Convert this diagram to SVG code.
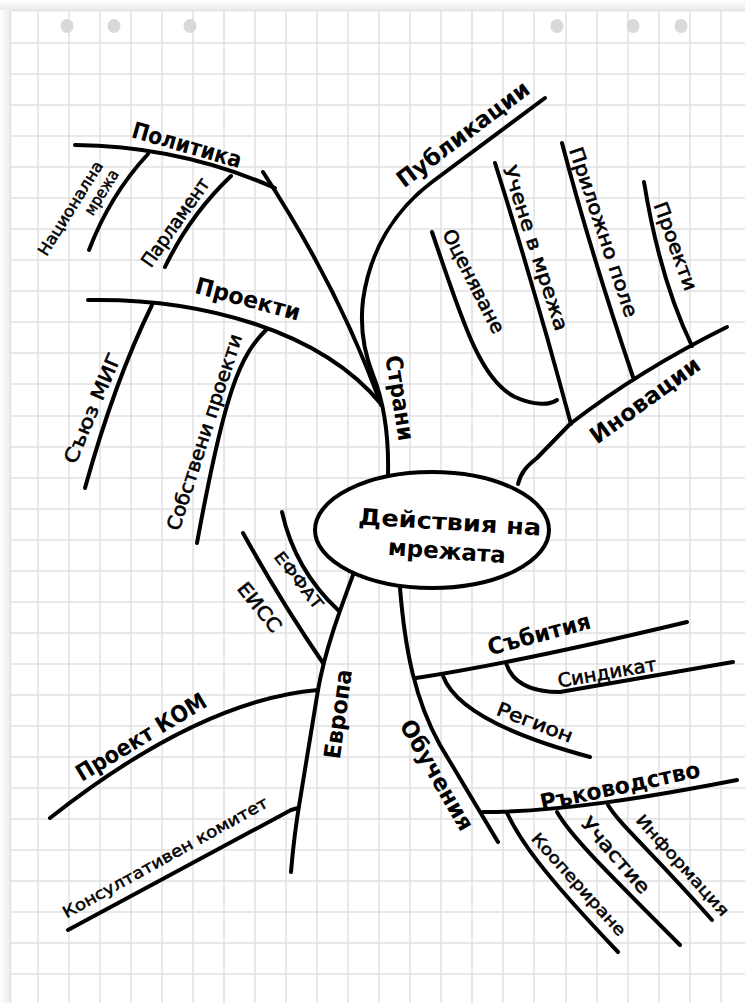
<svg xmlns="http://www.w3.org/2000/svg" width="745" height="1003" viewBox="0 0 745 1003">
<defs>
<style>
.grid line{stroke:#e1e1e1;stroke-width:1.5}
.dot{fill:#d9d9d9}
.c path{fill:none;stroke:#000;stroke-width:4;stroke-linecap:round;stroke-linejoin:round}
text{font-family:"DejaVu Sans","Noto Sans","Liberation Sans",sans-serif;fill:#000;text-anchor:middle}
.m{font-size:23px;font-weight:700}
.s{font-size:19px;font-weight:400;stroke:#000;stroke-width:0.6}
.xs{font-size:16px;font-weight:400;stroke:#000;stroke-width:0.5}
</style>
<linearGradient id="shL" x1="0" y1="0" x2="1" y2="0"><stop offset="0" stop-color="#fff"/><stop offset="1" stop-color="#ececec"/></linearGradient>
<linearGradient id="shT" x1="0" y1="0" x2="0" y2="1"><stop offset="0" stop-color="#fff"/><stop offset="1" stop-color="#ececec"/></linearGradient>
</defs>
<rect x="0" y="0" width="745" height="1003" fill="#fff"/>
<rect x="0" y="0" width="10" height="1003" fill="url(#shL)"/>
<rect x="0" y="0" width="745" height="10" fill="url(#shT)"/>
<g class="grid">
<line x1="10.5" y1="10.5" x2="10.5" y2="1003"/>
<line x1="10.5" y1="10.5" x2="745" y2="10.5"/>
<line x1="38" y1="10" x2="38" y2="1003"/><line x1="69" y1="10" x2="69" y2="1003"/><line x1="100" y1="10" x2="100" y2="1003"/><line x1="131" y1="10" x2="131" y2="1003"/><line x1="162" y1="10" x2="162" y2="1003"/><line x1="193" y1="10" x2="193" y2="1003"/><line x1="224" y1="10" x2="224" y2="1003"/><line x1="255" y1="10" x2="255" y2="1003"/><line x1="286" y1="10" x2="286" y2="1003"/><line x1="317" y1="10" x2="317" y2="1003"/><line x1="348" y1="10" x2="348" y2="1003"/><line x1="379" y1="10" x2="379" y2="1003"/><line x1="410" y1="10" x2="410" y2="1003"/><line x1="441" y1="10" x2="441" y2="1003"/><line x1="472" y1="10" x2="472" y2="1003"/><line x1="503" y1="10" x2="503" y2="1003"/><line x1="534" y1="10" x2="534" y2="1003"/><line x1="566" y1="10" x2="566" y2="1003"/><line x1="597" y1="10" x2="597" y2="1003"/><line x1="628" y1="10" x2="628" y2="1003"/><line x1="659" y1="10" x2="659" y2="1003"/><line x1="690" y1="10" x2="690" y2="1003"/><line x1="721" y1="10" x2="721" y2="1003"/>
<line x1="10" y1="43" x2="745" y2="43"/><line x1="10" y1="74" x2="745" y2="74"/><line x1="10" y1="105" x2="745" y2="105"/><line x1="10" y1="136" x2="745" y2="136"/><line x1="10" y1="167" x2="745" y2="167"/><line x1="10" y1="198" x2="745" y2="198"/><line x1="10" y1="229" x2="745" y2="229"/><line x1="10" y1="260" x2="745" y2="260"/><line x1="10" y1="291" x2="745" y2="291"/><line x1="10" y1="322" x2="745" y2="322"/><line x1="10" y1="353" x2="745" y2="353"/><line x1="10" y1="384" x2="745" y2="384"/><line x1="10" y1="416" x2="745" y2="416"/><line x1="10" y1="447" x2="745" y2="447"/><line x1="10" y1="478" x2="745" y2="478"/><line x1="10" y1="509" x2="745" y2="509"/><line x1="10" y1="540" x2="745" y2="540"/><line x1="10" y1="571" x2="745" y2="571"/><line x1="10" y1="602" x2="745" y2="602"/><line x1="10" y1="633" x2="745" y2="633"/><line x1="10" y1="664" x2="745" y2="664"/><line x1="10" y1="695" x2="745" y2="695"/><line x1="10" y1="726" x2="745" y2="726"/><line x1="10" y1="757" x2="745" y2="757"/><line x1="10" y1="788" x2="745" y2="788"/><line x1="10" y1="819" x2="745" y2="819"/><line x1="10" y1="850" x2="745" y2="850"/><line x1="10" y1="881" x2="745" y2="881"/><line x1="10" y1="912" x2="745" y2="912"/><line x1="10" y1="943" x2="745" y2="943"/><line x1="10" y1="974" x2="745" y2="974"/>
</g>
<g id="holes">
<ellipse class="dot" cx="67" cy="26" rx="6.5" ry="7"/><ellipse class="dot" cx="114" cy="26" rx="6.5" ry="7"/><ellipse class="dot" cx="190" cy="26" rx="6.5" ry="7"/><ellipse class="dot" cx="557" cy="26" rx="6.5" ry="7"/><ellipse class="dot" cx="633" cy="26" rx="6.5" ry="7"/><ellipse class="dot" cx="681" cy="26" rx="6.5" ry="7"/>
</g>
<g id="connectors" class="c">
<path d="M388,474 C389,430 383,400 373,375 C363,350 360,325 363,300 C370,250 395,210 432,182 L545,98"/>
<path d="M263,172 Q340,290 381,405"/>
<path d="M75,145 Q180,146 275,188"/>
<path d="M148,154 Q110,195 89,250"/>
<path d="M231,176 Q190,215 165,267"/>
<path d="M88,300 C200,298 320,330 381,404"/>
<path d="M152,305 Q115,380 85,488"/>
<path d="M267,329 C240,355 225,390 197,543"/>
<path d="M518,484 C521,472 527,466 537,458 L570,424 Q640,370 727,327"/>
<path d="M432,232 C462,320 480,380 515,397 C535,406 550,405 557,400"/>
<path d="M495,163 Q535,290 571,424"/>
<path d="M562,143 Q590,250 633,377"/>
<path d="M644,182 Q660,280 692,346"/>
<path d="M353,575 C340,610 325,650 318,690 L300,800 Q294,835 291,872"/>
<path d="M282,512 Q295,570 338,610"/>
<path d="M243,533 Q280,600 323,663"/>
<path d="M318,690 Q200,700 50,818"/>
<path d="M298,808 L291,810 L68,930"/>
<path d="M400,588 C405,650 415,700 440,745 L498,842"/>
<path d="M416,678 Q520,662 687,622"/>
<path d="M506,663 Q515,692 560,692 L733,662"/>
<path d="M443,676 Q460,722 590,757"/>
<path d="M483,812 C560,812 650,797 737,780"/>
<path d="M507,813 C520,840 540,870 618,952"/>
<path d="M557,812 C570,835 600,865 680,945"/>
<path d="M608,805 C620,825 650,850 712,920"/>
</g>
<g id="center">
<ellipse cx="432" cy="530" rx="117" ry="58" fill="#fff" stroke="#000" stroke-width="4"/>
<text class="m" font-size="25" transform="translate(450,521) rotate(3.5)" y="9" textLength="183" lengthAdjust="spacingAndGlyphs">Действия на</text>
<text class="m" font-size="25" transform="translate(447,550) rotate(4)" y="9" textLength="118" lengthAdjust="spacingAndGlyphs">мрежата</text>
</g>
<g id="n-strani"><text class="m" transform="translate(400,398) rotate(81)" y="8" textLength="86" lengthAdjust="spacingAndGlyphs">Страни</text></g>
<g id="n-politika"><text class="m" transform="translate(187,145) rotate(16)" y="8" textLength="113" lengthAdjust="spacingAndGlyphs">Политика</text></g>
<g id="n-nacionalna"><text class="xs" transform="translate(70,208) rotate(-58)" y="6" textLength="108" lengthAdjust="spacingAndGlyphs">Национална</text><text class="xs" transform="translate(101,192) rotate(-58)" y="6" textLength="50" lengthAdjust="spacingAndGlyphs">мрежа</text></g>
<g id="n-parlament"><text class="s" transform="translate(175,222) rotate(-55)" y="7" textLength="104" lengthAdjust="spacingAndGlyphs">Парламент</text></g>
<g id="n-proekti1"><text class="m" transform="translate(248,299) rotate(15)" y="8" textLength="108" lengthAdjust="spacingAndGlyphs">Проекти</text></g>
<g id="n-mig"><text class="s" transform="translate(92,408) rotate(-67)" y="7" textLength="118" lengthAdjust="spacingAndGlyphs">Съюз МИГ</text></g>
<g id="n-sobstveni"><text class="s" transform="translate(204,432) rotate(-72)" y="7" textLength="205" lengthAdjust="spacingAndGlyphs">Собствени проекти</text></g>
<g id="n-publikacii"><text class="m" transform="translate(463,134) rotate(-37)" y="8" textLength="160" lengthAdjust="spacingAndGlyphs">Публикации</text></g>
<g id="n-inovacii"><text class="m" transform="translate(645,400) rotate(-36)" y="8" textLength="130" lengthAdjust="spacingAndGlyphs">Иновации</text></g>
<g id="n-ocenqvane"><text class="s" transform="translate(474,281) rotate(63)" y="7" textLength="114" lengthAdjust="spacingAndGlyphs">Оценяване</text></g>
<g id="n-uchene"><text class="s" transform="translate(536,248) rotate(72)" y="7" textLength="172" lengthAdjust="spacingAndGlyphs">Учене в мрежа</text></g>
<g id="n-prilozhno"><text class="s" transform="translate(604,232) rotate(71.5)" y="7" textLength="178" lengthAdjust="spacingAndGlyphs">Приложно поле</text></g>
<g id="n-proekti2"><text class="s" transform="translate(676,246) rotate(70)" y="7" textLength="93" lengthAdjust="spacingAndGlyphs">Проекти</text></g>
<g id="n-effat"><text class="xs" font-weight="700" transform="translate(299,580) rotate(52)" y="6" textLength="68" lengthAdjust="spacingAndGlyphs">ЕФФАТ</text></g>
<g id="n-eiss"><text class="s" transform="translate(260,607) rotate(51)" y="7" textLength="58" lengthAdjust="spacingAndGlyphs">ЕИСС</text></g>
<g id="n-evropa"><text class="m" transform="translate(338,714) rotate(-82)" y="8" textLength="90" lengthAdjust="spacingAndGlyphs">Европа</text></g>
<g id="n-kom"><text class="m" transform="translate(141,737) rotate(-31)" y="8" textLength="148" lengthAdjust="spacingAndGlyphs">Проект КОМ</text></g>
<g id="n-konsult"><text class="xs" transform="translate(165,857) rotate(-29)" y="6" textLength="232" lengthAdjust="spacingAndGlyphs">Консултативен комитет</text></g>
<g id="n-obuchenia"><text class="m" transform="translate(437,775) rotate(60)" y="8" textLength="124" lengthAdjust="spacingAndGlyphs">Обучения</text></g>
<g id="n-sybitia"><text class="m" transform="translate(539,634) rotate(-15)" y="8" textLength="106" lengthAdjust="spacingAndGlyphs">Събития</text></g>
<g id="n-sindikat"><text class="s" transform="translate(607,672) rotate(-10)" y="7" textLength="100" lengthAdjust="spacingAndGlyphs">Синдикат</text></g>
<g id="n-region"><text class="s" transform="translate(535,722) rotate(21)" y="7" textLength="80" lengthAdjust="spacingAndGlyphs">Регион</text></g>
<g id="n-rykovodstvo"><text class="m" transform="translate(620,786) rotate(-12)" y="8" textLength="163" lengthAdjust="spacingAndGlyphs">Ръководство</text></g>
<g id="n-kooperirane"><text class="xs" transform="translate(579,884) rotate(48)" y="6" textLength="132" lengthAdjust="spacingAndGlyphs">Коопериране</text></g>
<g id="n-uchastie"><text class="s" transform="translate(616,855) rotate(49)" y="7" textLength="94" lengthAdjust="spacingAndGlyphs">Участие</text></g>
<g id="n-informacia"><text class="xs" transform="translate(683,865) rotate(48)" y="6" textLength="130" lengthAdjust="spacingAndGlyphs">Информация</text></g>
</svg>
